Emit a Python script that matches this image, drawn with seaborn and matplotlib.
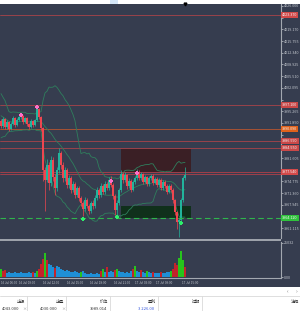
import numpy as np
import pandas as pd
import matplotlib.pyplot as plt
import matplotlib.transforms as mtransforms
from matplotlib.patches import Rectangle
import seaborn as sns

sns.set_style("dark")
plt.rcParams['font.family'] = ['Noto Sans CJK SC', 'DejaVu Sans']

BG = "#363d4f"
UP = "#22b39c"
DOWN = "#ef4650"
BAND = "#2f7f5d"
AXC = "#a3a8b0"
TXT = "#c3c7ce"

# closes before the visible window (only feed the bands)
pre_close = [4000.31, 3999.44, 4000.60, 3999.14, 3993.89, 3991.55, 3990.39, 3993.01, 3994.47, 3992.14,
             3990.68, 3993.31, 3994.76, 3992.43, 3990.39, 3991.55, 3993.60, 3994.18, 3992.43]

close = [3990.97, 3993.01, 3990.68, 3992.14, 3990.09, 3991.55, 3993.31, 3991.26, 3992.72, 3993.60,
         3993.89, 3992.14, 3993.31, 3991.55, 3990.68, 3992.43, 3991.26, 3992.72, 3995.93, 3993.60,
         3990.39, 3978.13, 3975.21, 3979.59, 3974.33, 3981.05, 3976.08, 3972.88, 3978.13, 3983.09,
         3979.59, 3975.79, 3978.13, 3973.75, 3975.79, 3972.29, 3974.04, 3970.83, 3972.88, 3969.96,
         3968.50, 3966.75, 3969.37, 3967.62, 3966.16, 3968.50, 3967.62, 3969.96, 3972.29, 3970.83,
         3973.46, 3971.71, 3974.04, 3972.88, 3975.21, 3973.75, 3970.54, 3966.45, 3968.50, 3972.29,
         3976.96, 3975.21, 3976.67, 3973.46, 3974.92, 3972.29, 3974.63, 3975.79, 3977.54, 3975.79,
         3976.96, 3974.63, 3976.08, 3974.04, 3975.79, 3976.38, 3974.33, 3975.50, 3973.75, 3975.21,
         3972.88, 3974.63, 3973.46, 3971.71, 3973.46, 3972.29, 3969.37, 3965.87, 3962.95, 3963.53,
         3969.37, 3975.79, 3976.67]

high = [3992.9, 3993.6, 3993.4, 3992.7, 3992.5, 3992.0, 3993.9, 3993.6, 3993.2, 3994.1,
        3994.5, 3994.2, 3993.7, 3993.6, 3991.9, 3992.9, 3992.8, 3993.1, 3996.5, 3996.2,
        3994.0, 3990.8, 3979.0, 3981.2, 3980.5, 3982.3, 3981.8, 3977.0, 3979.0, 3984.5,
        3983.8, 3980.4, 3979.1, 3978.7, 3976.7, 3976.4, 3974.9, 3974.6, 3973.6, 3973.4,
        3970.6, 3969.1, 3970.2, 3970.0, 3968.2, 3969.1, 3969.4, 3970.8, 3973.2, 3972.9,
        3974.3, 3974.0, 3974.9, 3974.6, 3976.1, 3976.3, 3974.3, 3971.0, 3969.3, 3973.0,
        3978.1, 3977.6, 3977.4, 3977.1, 3975.7, 3975.4, 3975.3, 3976.5, 3978.4, 3978.0,
        3977.6, 3977.3, 3976.8, 3976.5, 3976.5, 3977.0, 3976.9, 3976.1, 3976.0, 3975.9,
        3975.7, 3975.3, 3975.1, 3973.9, 3974.1, 3973.9, 3972.8, 3969.8, 3966.3, 3964.3,
        3970.0, 3976.5, 3978.9]

low = [3990.4, 3990.5, 3990.1, 3990.2, 3989.5, 3989.7, 3991.2, 3990.8, 3990.9, 3992.3,
       3993.0, 3991.7, 3991.8, 3991.0, 3990.1, 3990.3, 3990.8, 3990.9, 3992.4, 3993.1,
       3989.6, 3975.0, 3966.1, 3974.5, 3972.4, 3973.5, 3974.9, 3970.9, 3972.0, 3977.3,
       3978.4, 3974.6, 3974.9, 3972.9, 3973.0, 3971.4, 3971.6, 3969.9, 3970.2, 3969.1,
       3967.6, 3964.7, 3966.2, 3967.0, 3965.3, 3965.6, 3966.8, 3967.0, 3969.5, 3970.0,
       3970.2, 3971.0, 3971.2, 3972.2, 3972.4, 3973.1, 3969.8, 3965.0, 3964.9, 3968.0,
       3971.8, 3974.4, 3974.6, 3972.7, 3972.9, 3971.6, 3971.9, 3974.1, 3975.3, 3975.1,
       3975.2, 3974.0, 3974.2, 3973.4, 3973.6, 3975.2, 3973.7, 3973.9, 3973.1, 3973.3,
       3972.2, 3972.4, 3972.8, 3971.0, 3971.3, 3971.6, 3968.6, 3964.9, 3960.9, 3958.6,
       3963.0, 3968.8, 3975.2]

volume = [5720, 4310, 5030, 2870, 3560, 2900, 3010, 3480, 2760, 3050,
          3620, 2840, 2950, 3100, 3390, 2880, 3570, 2930, 4250, 5810,
          9350, 12870, 17160, 12240, 9280, 8610, 7150, 6440, 7890, 7160,
          5730, 5020, 4310, 4980, 4290, 3600, 3540, 4260, 3580, 2870,
          3590, 4300, 2860, 2150, 2230, 2880, 2140, 2210, 2900, 2180,
          4310, 5740, 3580, 7160, 3600, 4290, 3560, 5010, 5730, 4280,
          3590, 3540, 2860, 3570, 2880, 4300, 5720, 7870, 4290, 3580,
          5010, 3570, 2880, 4310, 3560, 2870, 3590, 2850, 2900, 2870,
          3580, 2860, 2930, 3570, 3610, 4290, 5720, 10010, 8580, 13590,
          18590, 12160, 7150]
vol_kind = list("grrbbbbbbb" "bbbbbbrbgr" "rrgrbbbrbb" "bbbbbbbbbb" "gbbbbbbbbb"
                "rgbrbbbrgb" "bbbbbbrgbb" "rbbgbbrbbb" "rbbbbgrrrg" "ggr")

frac_up_idx = [10, 18, 55, 68]
frac_up_price = [3994.2, 3996.5, 3974.9, 3977.3]
frac_dn_idx = [41, 58, 90]
frac_dn_price = [3963.8, 3964.4, 3962.7]

level_prices = [4023.37, 3997.10, 3990.09, 3986.59, 3984.55, 3977.54, 3976.96]
level_colors = ["#a9434a", "#a9434a", "#b9552f", "#a9434a", "#a9434a", "#b0404a", "#b0404a"]
tag_prices = [4023.37, 3997.10, 3990.09, 3986.59, 3984.55, 3977.54]
tag_colors = ["#d24a4a", "#c94848", "#e0621c", "#c94848", "#c94848", "#d24a4a"]
support_price = 3964.12

zone_red = (59.85, 95.15, 3977.54, 3984.26)
zone_green = (59.85, 95.15, 3964.12, 3967.62)

price_ticks = [4026.000, 4022.585, 4019.170, 4015.755, 4012.340, 4008.925, 4005.510, 4002.095,
               3998.680, 3995.265, 3991.850, 3988.435, 3985.020, 3981.605, 3978.190, 3974.775,
               3971.360, 3967.945, 3964.530, 3961.115]
time_ticks = [-0.2, 13, 25, 37, 48.5, 60.5, 71, 81.5, 94.5]
time_labels = ["16 Jul 06:00", "16 Jul 09:00", "16 Jul 12:00", "16 Jul 15:00", "16 Jul 18:00",
               "16 Jul 21:00", "17 Jul 03:00", "17 Jul 09:00", "17 Jul 15:00"]

headers = ["止损", "止盈", "价位", "盈利", "过期", "注释"]
row_vals = ["4043.000", "4030.000", "3989.014", "3 226.00", "", ""]

# ---------------- figure layout (pixel helpers)
W, H = 300, 311
def fx(px):
    return px / W
def fy(py):
    return 1 - py / H

fig = plt.figure(figsize=(3.0, 3.11), dpi=100)
fig.patch.set_facecolor("white")
fig.add_artist(Rectangle((0, fy(287)), 1, fy(4) - fy(287), transform=fig.transFigure,
                         facecolor=BG, edgecolor="none", zorder=0))

ax = fig.add_axes([0, fy(238), fx(281), fy(4) - fy(238)])
axv = fig.add_axes([0, fy(278), fx(281), fy(242) - fy(278)], sharex=ax)
fig.add_artist(Rectangle((0, fy(241)), fx(281), fy(239) - fy(241), transform=fig.transFigure,
                         facecolor="#9da2aa", edgecolor="none", zorder=1))

for a in (ax, axv):
    a.set_facecolor(BG)
    for s in a.spines.values():
        s.set_visible(False)
    a.spines['right'].set_visible(True)
    a.spines['right'].set_color(AXC)
    a.spines['right'].set_linewidth(0.8)
    a.grid(False)
axv.spines['bottom'].set_visible(True)
axv.spines['bottom'].set_color(AXC)
axv.spines['bottom'].set_linewidth(0.8)

# ---------------- candles
n = len(close)
x = np.arange(n)
close_a = np.array(close)
open_a = np.r_[pre_close[-1], close_a[:-1]]
colors = np.where(close_a >= open_a, UP, DOWN)
ax.vlines(x, low, high, colors=colors, lw=0.5, zorder=3)
body = np.maximum(np.abs(close_a - open_a), 0.12)
ax.bar(x, body, bottom=np.minimum(open_a, close_a), width=0.62, color=colors, lw=0, zorder=4)

# ---------------- bollinger bands
allc = pd.Series(pre_close + close)
mid = allc.rolling(20).mean()
sd = allc.rolling(20).std(ddof=0)
bands = pd.DataFrame({"x": np.arange(-len(pre_close), n), "upper": mid + 2 * sd,
                      "mid": mid, "lower": mid - 2 * sd})
for col in ["upper", "mid", "lower"]:
    sns.lineplot(data=bands, x="x", y=col, color=BAND, lw=0.6, ax=ax, zorder=2)

# ---------------- levels and zones
for p, c in zip(level_prices, level_colors):
    ax.axhline(p, color=c, lw=0.6, zorder=1)
ax.axhline(support_price, color="#2fb54d", lw=0.8, ls=(0, (5, 3)), zorder=5)
for z, fc in [(zone_red, "#3a1f25"), (zone_green, "#10301b")]:
    ax.add_patch(Rectangle((z[0], z[2]), z[1] - z[0], z[3] - z[2], facecolor=fc,
                           edgecolor="none", zorder=0.5))

sns.scatterplot(x=frac_up_idx, y=frac_up_price, marker="P", color="#ff6fc8", s=9,
                linewidth=0, ax=ax, zorder=6)
sns.scatterplot(x=frac_dn_idx, y=frac_dn_price, marker="P", color="#2cf06a", s=9,
                linewidth=0, ax=ax, zorder=6)

ax.set_xlim(-0.5, 140)
ax.set_ylim(3958.28, 4026.58)
ax.set_xlabel("")
ax.set_ylabel("")
ax.yaxis.tick_right()
ax.set_yticks(price_ticks)
# the coloured price tags sit on top of nearby tick labels
all_tags = tag_prices + [support_price]
ax.set_yticklabels(["" if min(abs(t - p) for p in all_tags) < 1.7 else f"{t:.3f}"
                    for t in price_ticks])
ax.tick_params(axis="y", colors=TXT, labelsize=2.7, length=1.5, width=0.5, pad=0.8)
ax.tick_params(axis="x", bottom=False, labelbottom=False)

trans = mtransforms.blended_transform_factory(ax.transAxes, ax.transData)
for p, c in zip(tag_prices, tag_colors):
    ax.text(1.004, p, f"{p:.3f}", transform=trans, fontsize=2.7, color="#f4f4f4",
            va="center", ha="left", clip_on=False, zorder=10,
            bbox=dict(boxstyle="square,pad=0.25", fc=c, ec="none"))
ax.text(1.004, support_price, f"{support_price:.3f}", transform=trans, fontsize=2.7,
        color="#f4f4f4", va="center", ha="left", clip_on=False, zorder=10,
        bbox=dict(boxstyle="square,pad=0.25", fc="#2fc23c", ec="none"))
ax.plot([n - 1], [1.0], marker="v", color="black", ms=2,
        transform=mtransforms.blended_transform_factory(ax.transData, ax.transAxes),
        clip_on=False)

# ---------------- volume
vol_df = pd.DataFrame({"x": x, "vol": volume, "kind": vol_kind})
sns.barplot(data=vol_df, x="x", y="vol", hue="kind", native_scale=True, dodge=False,
            palette={"b": "#1f8fd6", "r": "#c4232b", "g": "#27c41c"}, width=0.7,
            legend=False, ax=axv, linewidth=0, saturation=1)
axv.set_xlim(-0.5, 140)
axv.set_ylim(-715, 25400)
axv.set_xlabel("")
axv.set_ylabel("")
axv.yaxis.tick_right()
axv.set_yticks([0, 25032])
axv.set_yticklabels(["0.00", "25032"])
axv.tick_params(axis="y", colors=TXT, labelsize=2.7, length=1.5, width=0.5, pad=0.8)
axv.set_xticks(time_ticks)
axv.set_xticklabels(time_labels, ha="center")
axv.get_xticklabels()[0].set_horizontalalignment("left")
axv.tick_params(axis="x", colors=TXT, labelsize=2.2, length=1.5, width=0.5, pad=1.0)

# ---------------- toolbar strip and bottom table
fig.add_artist(Rectangle((fx(110), fy(4)), fx(8), fy(0) - fy(4), transform=fig.transFigure,
                         facecolor="#d3e5f7", edgecolor="none"))
line_c = "#d9d9d9"
fig.add_artist(plt.Line2D([0, 1], [fy(296), fy(296)], transform=fig.transFigure, color=line_c, lw=0.6))
for sx in [27, 66, 110, 158, 202]:
    fig.add_artist(plt.Line2D([fx(sx), fx(sx)], [fy(296), 0], transform=fig.transFigure,
                              color=line_c, lw=0.6))
fig.text(fx(288), fy(291.5), "‹", fontsize=4, color="#777777", ha="center", va="center")
fig.text(fx(297), fy(291.5), "›", fontsize=4, color="#777777", ha="center", va="center")
right_edges = [25, 64, 108, 156, 200, 299]
for r, h in zip(right_edges, headers):
    fig.text(fx(r), fy(302), h, fontsize=3.0, color="#333333", ha="right", va="center")
for r, v, c in zip([19, 58, 107, 154], row_vals[:4], ["#333", "#333", "#333", "#3355dd"]):
    fig.text(fx(r), fy(309), v, fontsize=3.0, color=c, ha="right", va="center")
for r in [24, 63]:
    fig.text(fx(r), fy(309), "×", fontsize=3.0, color="#888888", ha="center", va="center")

fig.savefig("out.png", dpi=100, facecolor=fig.get_facecolor())
